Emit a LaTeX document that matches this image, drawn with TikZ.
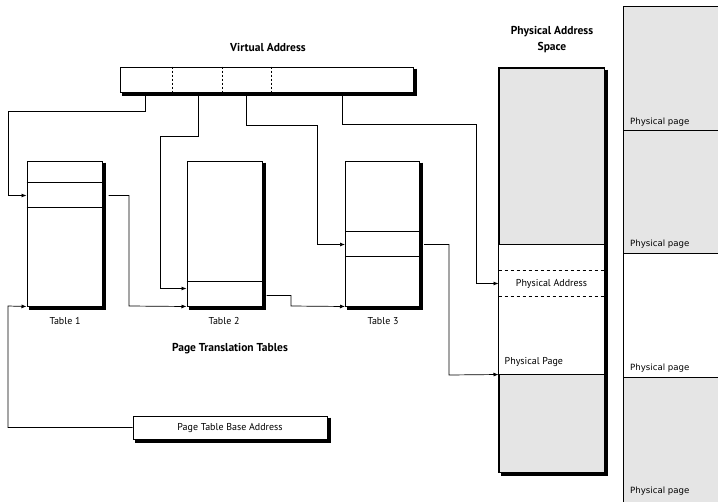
\documentclass[tikz,border=0pt]{standalone}
\usepackage{fontspec}
\setmainfont{PT Sans}
\newfontfamily\pagefont{DejaVu Sans}
\usetikzlibrary{calc,arrows.meta}
\definecolor{pagegray}{HTML}{E5E5E5}
\begin{document}
\begin{tikzpicture}[x=1pt,y=-1pt,
  box/.style={draw=black, line width=1pt, fill=white, inner sep=0pt},
  shadowline/.style={draw=black, line width=3pt, line cap=butt, line join=miter},
  conn/.style={draw=black, line width=0.7pt},
  arr/.style={conn, -{Latex[length=5pt,width=4pt]}},
  sep/.style={draw=black, line width=0.9pt},
  title/.style={font=\bfseries\fontsize{11.5}{16}\selectfont, align=center, inner sep=0pt},
  lbl/.style={font=\fontsize{10}{12}\selectfont, inner sep=0pt},
  pglbl/.style={font=\pagefont\fontsize{8.6}{10}\selectfont, inner sep=0pt, anchor=west},
  vdash/.style={draw=black, line width=0.8pt, dash pattern=on 2pt off 2pt},
  pdash/.style={draw=black, line width=0.8pt, dash pattern=on 3pt off 3pt}
]
\useasboundingbox (0,0) rectangle (718,501);

% right column of physical pages
\fill[pagegray] (623,6) rectangle (720,253);
\fill[pagegray] (623,377) rectangle (720,503);
\draw[sep] (720,6) -- (623,6) -- (623,503);
\draw[sep] (623,130) -- (720,130);
\draw[sep] (623,253) -- (720,253);
\draw[sep] (623,377) -- (720,377);
\node[pglbl] (pg1) at (630,122) {Physical page};
\node[pglbl] (pg2) at (630,244) {Physical page};
\node[pglbl] (pg3) at (630,368) {Physical page};
\node[pglbl] (pg4) at (630,491) {Physical page};

% titles
\node[title] (vat) at (268,47) {Virtual Address};
\node[title] (pat) at (552,40) {Physical Address\\Space};
\node[title] (ptt) at (230,349) {Page Translation Tables};

% virtual address bar
\node[box, minimum width=293pt, minimum height=25pt] (va) at (266.5,79.5) {};
\draw[vdash] ($(va.north west)+(53,0)$) -- ($(va.south west)+(53,0)$);
\draw[vdash] ($(va.north west)+(103,0)$) -- ($(va.south west)+(103,0)$);
\draw[vdash] ($(va.north west)+(152,0)$) -- ($(va.south west)+(152,0)$);

% tables
\node[box, minimum width=75pt, minimum height=145pt] (t1) at (64.5,233.5) {};
\node[box, minimum width=75pt, minimum height=145pt] (t2) at (224.5,233.5) {};
\node[box, minimum width=74pt, minimum height=145pt] (t3) at (382.5,233.5) {};
\draw[sep] ($(t1.north west)+(0,22)$) -- ($(t1.north east)+(0,22)$);
\draw[sep] ($(t1.north west)+(0,47)$) -- ($(t1.north east)+(0,47)$);
\draw[sep] ($(t2.north west)+(0,121)$) -- ($(t2.north east)+(0,121)$);
\draw[sep] ($(t3.north west)+(0,71)$) -- ($(t3.north east)+(0,71)$);
\draw[sep] ($(t3.north west)+(0,96)$) -- ($(t3.north east)+(0,96)$);
\node[lbl] (t1l) at (65,321) {Table 1};
\node[lbl] (t2l) at (224,321) {Table 2};
\node[lbl] (t3l) at (383,321) {Table 3};

% physical address space
\node[box, fill=pagegray, minimum width=105pt, minimum height=404pt] (pa) at (551.5,270) {};
\fill[white] ($(pa.north west)+(0,177)$) rectangle ($(pa.north east)+(0,307)$);
\draw[box, fill=none] (pa.north west) rectangle (pa.south east);
\draw[sep] ($(pa.north west)+(0,177)$) -- ($(pa.north east)+(0,177)$);
\draw[pdash] ($(pa.north west)+(0,203)$) -- ($(pa.north east)+(0,203)$);
\draw[pdash] ($(pa.north west)+(0,229)$) -- ($(pa.north east)+(0,229)$);
\draw[sep] ($(pa.north west)+(0,307)$) -- ($(pa.north east)+(0,307)$);
\node[lbl] (paddr) at ($(pa.north)+(0,216)$) {Physical Address};
\node[lbl, anchor=west] (ppage) at ($(pa.north west)+(6,295)$) {Physical Page};

% page table base address
\node[box, minimum width=194pt, minimum height=23pt, font=\fontsize{10}{12}\selectfont] (pb) at (230,427.5) {Page Table Base Address};

% shadows (thick right and bottom edges)
\draw[shadowline] ($(va.north east)+(1.5,2)$) -- ($(va.south east)+(1.5,1.5)$) -- ($(va.south west)+(2,1.5)$);
\draw[shadowline] ($(t1.north east)+(1.5,2)$) -- ($(t1.south east)+(1.5,1.5)$) -- ($(t1.south west)+(2,1.5)$);
\draw[shadowline] ($(t2.north east)+(1.5,2)$) -- ($(t2.south east)+(1.5,1.5)$) -- ($(t2.south west)+(2,1.5)$);
\draw[shadowline] ($(t3.north east)+(1.5,2)$) -- ($(t3.south east)+(1.5,1.5)$) -- ($(t3.south west)+(2,1.5)$);
\draw[shadowline] ($(pa.north east)+(1.5,2)$) -- ($(pa.south east)+(1.5,1.5)$) -- ($(pa.south west)+(2,1.5)$);
\draw[shadowline] ($(pb.north east)+(1.5,2)$) -- ($(pb.south east)+(1.5,1.5)$) -- ($(pb.south west)+(2,1.5)$);

% connectors
\draw[arr] ($(va.south west)+(26,0)$) |- (8,111) |- ($(t1.north west)+(0,35)$);
\draw[arr] ($(va.south west)+(79,0)$) |- (160,136) |- ($(t2.north west)+(0,128)$);
\draw[arr] ($(va.south west)+(127,0)$) |- (317,125) |- ($(t3.north west)+(0,84)$);
\draw[arr] ($(va.south west)+(223,0)$) |- (476,124) |- ($(pa.north west)+(0,216)$);
\draw[arr] ($(t1.north east)+(6,35)$) -| (129,306) -- (t2.south west);
\draw[arr] ($(t2.north east)+(4,135)$) -| (291,306) -- (t3.south west);
\draw[arr] ($(t3.north east)+(4,84)$) -| (449,375) -- ($(pa.north west)+(0,307)$);
\draw[arr] (pb.west) -| (8,306) -- (t1.south west);
\end{tikzpicture}
\end{document}
